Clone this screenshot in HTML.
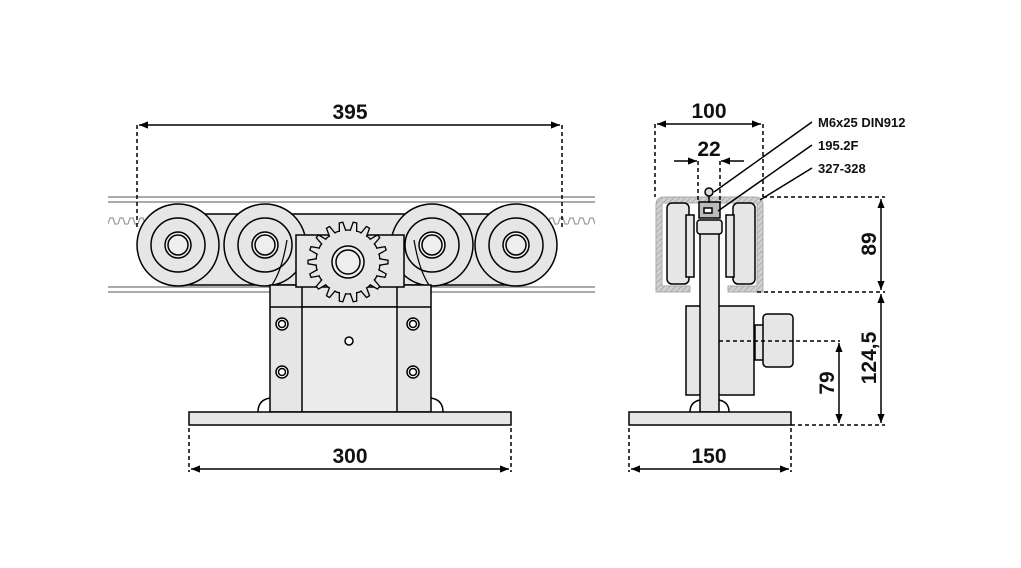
<!DOCTYPE html>
<html><head><meta charset="utf-8">
<style>
html,body{margin:0;padding:0;background:#fff;}
svg{display:block;}
text{font-family:"Liberation Sans",sans-serif;font-weight:bold;fill:#111;}
</style></head>
<body>
<svg width="1021" height="568" viewBox="0 0 1021 568" xmlns="http://www.w3.org/2000/svg">
<defs>
<pattern id="h" width="4" height="4" patternUnits="userSpaceOnUse" patternTransform="rotate(45)">
<rect width="4" height="4" fill="#d0d0d0"/><line x1="0" y1="0" x2="0" y2="4" stroke="#999" stroke-width="1.2"/>
</pattern>
<pattern id="rk" x="108" y="216" width="10" height="10" patternUnits="userSpaceOnUse">
<path d="M0,8 L2,2 L5,2 L7,8 L10,8" fill="none" stroke="#999" stroke-width="1.2"/>
</pattern>
<path id="t" d="M31,-3.3 L40,-1.8 L40,1.8 L31,3.3" fill="#e6e6e6" stroke="#000" stroke-width="1.3"/>
<marker id="a" viewBox="0 0 10 10" refX="10" refY="5" markerWidth="9" markerHeight="9" orient="auto-start-reverse" markerUnits="userSpaceOnUse"><path d="M0,1 L10,5 L0,9 Z" fill="#000"/></marker>
</defs>
<g stroke="#000" fill="none" stroke-width="1.5">
<g stroke="#aaa" stroke-width="2">
<line x1="108" y1="197" x2="595" y2="197"/><line x1="108" y1="202" x2="595" y2="202"/>
<line x1="108" y1="287" x2="595" y2="287"/><line x1="108" y1="292" x2="595" y2="292"/>
</g>
<rect x="108" y="216" width="487" height="10" fill="url(#rk)" stroke="none"/>
<path d="M178,214 L516,214 L516,285 L178,285 Z" fill="#e6e6e6"/>
<g fill="#e6e6e6">
<circle cx="178" cy="245" r="41"/><circle cx="265" cy="245" r="41"/>
<circle cx="432" cy="245" r="41"/><circle cx="516" cy="245" r="41"/>
</g>
<g>
<circle cx="178" cy="245" r="27"/><circle cx="265" cy="245" r="27"/><circle cx="432" cy="245" r="27"/><circle cx="516" cy="245" r="27"/>
<circle cx="178" cy="245" r="13" fill="#eee"/><circle cx="265" cy="245" r="13" fill="#eee"/><circle cx="432" cy="245" r="13" fill="#eee"/><circle cx="516" cy="245" r="13" fill="#eee"/>
<circle cx="178" cy="245" r="10"/><circle cx="265" cy="245" r="10"/><circle cx="432" cy="245" r="10"/><circle cx="516" cy="245" r="10"/>
</g>
<path d="M270,285 L431,285 L431,412 L270,412 Z" fill="#e6e6e6"/>
<path d="M258,412 Q258,400 270,398 M443,412 Q443,400 431,398"/>
<path d="M272,285 Q282,270 287,240 M429,285 Q419,270 414,240" stroke-width="1.2"/>
<line x1="270" y1="307" x2="431" y2="307"/>
<rect x="302" y="307" width="95" height="105" fill="#ececec"/>
<line x1="302" y1="285" x2="302" y2="307"/><line x1="397" y1="285" x2="397" y2="307"/>
<rect x="296" y="235" width="108" height="52" fill="#e6e6e6"/>
<!-- gear -->
<circle cx="348" cy="262" r="32" fill="#e6e6e6" stroke-width="1.3"/>
<g transform="translate(348,262)">
<use href="#t"/><use href="#t" transform="rotate(20)"/><use href="#t" transform="rotate(40)"/>
<use href="#t" transform="rotate(60)"/><use href="#t" transform="rotate(80)"/><use href="#t" transform="rotate(100)"/>
<use href="#t" transform="rotate(120)"/><use href="#t" transform="rotate(140)"/><use href="#t" transform="rotate(160)"/>
<use href="#t" transform="rotate(180)"/><use href="#t" transform="rotate(200)"/><use href="#t" transform="rotate(220)"/>
<use href="#t" transform="rotate(240)"/><use href="#t" transform="rotate(260)"/><use href="#t" transform="rotate(280)"/>
<use href="#t" transform="rotate(300)"/><use href="#t" transform="rotate(320)"/><use href="#t" transform="rotate(340)"/>
</g>
<circle cx="348" cy="262" r="16" fill="#eee"/><circle cx="348" cy="262" r="12"/>
<g fill="#fff">
<circle cx="282" cy="324" r="6"/><circle cx="282" cy="372" r="6"/><circle cx="413" cy="324" r="6"/><circle cx="413" cy="372" r="6"/>
</g>
<g><circle cx="282" cy="324" r="3.5"/><circle cx="282" cy="372" r="3.5"/><circle cx="413" cy="324" r="3.5"/><circle cx="413" cy="372" r="3.5"/></g>
<circle cx="349" cy="341" r="4" fill="#fff"/>
<rect x="189" y="412" width="322" height="13" fill="#e6e6e6"/>
<g stroke-dasharray="4,3"><line x1="137" y1="125" x2="137" y2="230"/><line x1="562" y1="125" x2="562" y2="230"/>
<line x1="189" y1="428" x2="189" y2="472"/><line x1="511" y1="428" x2="511" y2="472"/></g>
<line x1="139" y1="125" x2="560" y2="125" marker-start="url(#a)" marker-end="url(#a)"/>
<line x1="191" y1="469" x2="509" y2="469" marker-start="url(#a)" marker-end="url(#a)"/>

<path d="M656,292 L656,205 Q656,197 664,197 L755,197 Q763,197 763,205 L763,292 L728,292 L728,286 L757,286 L757,203 L662,203 L662,286 L690,286 L690,292 Z" fill="url(#h)" stroke="#aaa" stroke-width="1"/>
<rect x="667" y="203" width="22" height="81" rx="5" fill="#e6e6e6"/>
<rect x="733" y="203" width="22" height="81" rx="5" fill="#e6e6e6"/>
<rect x="686" y="215" width="8" height="62" fill="#e6e6e6"/><rect x="726" y="215" width="8" height="62" fill="#e6e6e6"/>
<rect x="686" y="306" width="68" height="89" fill="#e6e6e6"/>
<rect x="755" y="325" width="10" height="35" fill="#e6e6e6"/>
<rect x="763" y="314" width="30" height="53" rx="4" fill="#e6e6e6"/>
<rect x="700" y="232" width="19" height="180" fill="#e6e6e6"/>
<rect x="697" y="220" width="25" height="14" rx="3" fill="#e6e6e6"/>
<rect x="699" y="202" width="21" height="16" fill="#bbb"/>
<rect x="704" y="208" width="8" height="5" fill="#fff"/>
<circle cx="709" cy="192" r="4" fill="#ddd"/><line x1="709" y1="196" x2="709" y2="203"/>
<path d="M690,412 Q690,402 700,400 M729,412 Q729,402 719,400"/>
<rect x="629" y="412" width="162" height="13" fill="#e6e6e6"/>
<g stroke-dasharray="4,3">
<line x1="655" y1="124" x2="655" y2="197"/><line x1="763" y1="124" x2="763" y2="197"/>
<line x1="698" y1="161" x2="698" y2="202"/><line x1="720" y1="161" x2="720" y2="202"/>
<line x1="763" y1="197" x2="885" y2="197"/><line x1="757" y1="292" x2="885" y2="292"/>
<line x1="791" y1="425" x2="885" y2="425"/><line x1="719" y1="341" x2="840" y2="341"/>
<line x1="629" y1="428" x2="629" y2="472"/><line x1="791" y1="428" x2="791" y2="472"/>
</g>
<line x1="657" y1="124" x2="761" y2="124" marker-start="url(#a)" marker-end="url(#a)"/>
<line x1="674" y1="161" x2="697" y2="161" marker-end="url(#a)"/>
<line x1="744" y1="161" x2="721" y2="161" marker-end="url(#a)"/>
<line x1="881" y1="199" x2="881" y2="290" marker-start="url(#a)" marker-end="url(#a)"/>
<line x1="881" y1="294" x2="881" y2="423" marker-start="url(#a)" marker-end="url(#a)"/>
<line x1="839" y1="343" x2="839" y2="423" marker-start="url(#a)" marker-end="url(#a)"/>
<line x1="631" y1="469" x2="789" y2="469" marker-start="url(#a)" marker-end="url(#a)"/>
<line x1="714" y1="192" x2="812" y2="122"/>
<line x1="718" y1="211" x2="812" y2="145"/>
<line x1="760" y1="200" x2="812" y2="168"/>
</g>
<text x="350" y="119" font-size="21" text-anchor="middle">395</text>
<text x="350" y="463" font-size="21" text-anchor="middle">300</text>
<text x="709" y="118" font-size="21" text-anchor="middle">100</text>
<text x="709" y="156" font-size="21" text-anchor="middle">22</text>
<text x="709" y="463" font-size="21" text-anchor="middle">150</text>
<text x="818" y="127" font-size="13">M6x25 DIN912</text>
<text x="818" y="150" font-size="13">195.2F</text>
<text x="818" y="173" font-size="13">327-328</text>
<text transform="translate(876,244) rotate(-90)" font-size="21" text-anchor="middle">89</text>
<text transform="translate(876,358) rotate(-90)" font-size="21" text-anchor="middle">124,5</text>
<text transform="translate(834,383) rotate(-90)" font-size="21" text-anchor="middle">79</text>
</svg>
</body></html>
